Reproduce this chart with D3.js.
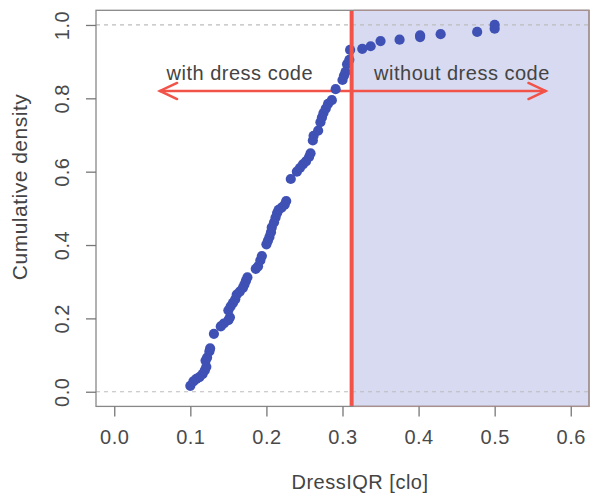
<!DOCTYPE html>
<html>
<head>
<meta charset="utf-8">
<script src="https://cdn.jsdelivr.net/npm/d3@7"></script>
<style>
  html, body { margin: 0; padding: 0; background: #fff; }
  svg { display: block; font-family: "Liberation Sans", Arial, Helvetica, sans-serif; }
</style>
</head>
<body>
<svg id="chart" width="591" height="493"></svg>
<script>
// ---- data ----
const xTicks = [0.0, 0.1, 0.2, 0.3, 0.4, 0.5, 0.6];
const yTicks = [0.0, 0.2, 0.4, 0.6, 0.8, 1.0];
const xTickLabels = ["0.0", "0.1", "0.2", "0.3", "0.4", "0.5", "0.6"];
const yTickLabels = ["0.0", "0.2", "0.4", "0.6", "0.8", "1.0"];

const dressIQR = [
  0.100, 0.104, 0.108, 0.112, 0.116, 0.119, 0.121, 0.120, 0.122, 0.125,
  0.126, 0.131, 0.140, 0.144, 0.150, 0.152, 0.150, 0.153, 0.156, 0.159,
  0.161, 0.165, 0.169, 0.171, 0.173, 0.175, 0.186, 0.189, 0.192, 0.194,
  0.200, 0.202, 0.204, 0.206, 0.207, 0.210, 0.212, 0.214, 0.216, 0.220,
  0.224, 0.226, 0.232, 0.240, 0.244, 0.248, 0.252, 0.256, 0.258, 0.261,
  0.262, 0.268, 0.271, 0.273, 0.275, 0.278, 0.281, 0.286, 0.291, 0.300,
  0.302, 0.304, 0.306, 0.309, 0.310, 0.326, 0.337, 0.350, 0.375, 0.402,
  0.402, 0.429, 0.477, 0.500, 0.500
];
const cumDensity = [
  0.016, 0.028, 0.035, 0.040, 0.048, 0.058, 0.068, 0.085, 0.093, 0.110,
  0.118, 0.158, 0.178, 0.186, 0.195, 0.203, 0.222, 0.233, 0.242, 0.252,
  0.265, 0.273, 0.283, 0.292, 0.302, 0.312, 0.335, 0.342, 0.358, 0.370,
  0.402, 0.412, 0.422, 0.435, 0.448, 0.462, 0.475, 0.487, 0.496, 0.502,
  0.510, 0.520, 0.580, 0.600, 0.610, 0.620, 0.628, 0.640, 0.650, 0.685,
  0.698, 0.712, 0.735, 0.748, 0.760, 0.772, 0.785, 0.795, 0.825, 0.850,
  0.862, 0.872, 0.893, 0.905, 0.932, 0.935, 0.942, 0.956, 0.960, 0.967,
  0.972, 0.975, 0.981, 0.990, 1.000
];

const threshold = 0.312;
const arrowLevel = 0.82;
const arrowLeftEnd = 0.06;
const arrowRightEnd = 0.567;
const leftLabel = "with dress code";
const rightLabel = "without dress code";
const leftLabelX = 0.165, rightLabelX = 0.457;
const xTitle = "DressIQR [clo]";
const yTitle = "Cumulative density";

// ---- drawing ----
const svg = d3.select("#chart");
const x = d3.scaleLinear().domain([-0.024, 0.624]).range([96, 589]);
const y = d3.scaleLinear().domain([-0.04, 1.04]).range([406.4, 10.3]);
const [x0, x1] = x.range();
const [yb, yt] = y.range();

const points = dressIQR.map((d, i) => ({x: d, y: cumDensity[i]}));

// shaded region (without dress code)
svg.append("rect")
  .attr("x", x(threshold)).attr("y", yt)
  .attr("width", x1 - x(threshold)).attr("height", yb - yt)
  .attr("fill", "#d7daf0");

// dashed reference lines at 0 and 1
svg.selectAll("line.ref").data([0, 1]).enter().append("line")
  .attr("class", "ref")
  .attr("x1", x0).attr("x2", x1)
  .attr("y1", d => y(d)).attr("y2", d => y(d))
  .attr("stroke", "#bdbdbd").attr("stroke-width", 1.2)
  .attr("stroke-dasharray", "4,4");

// arrows
const red = "#f25349";
function arrow(xFrom, xTo) {
  const g = svg.append("g").attr("stroke", red).attr("stroke-width", 2.5)
    .attr("fill", "none").attr("stroke-linecap", "round");
  const yy = y(arrowLevel);
  const xa = x(xFrom), xb = x(xTo);
  g.append("line").attr("x1", xa).attr("x2", xb).attr("y1", yy).attr("y2", yy);
  const dir = xb > xa ? -1 : 1;
  const len = 19, ang = 25 * Math.PI / 180;
  const dx = dir * len * Math.cos(ang), dy = len * Math.sin(ang);
  g.append("path")
    .attr("d", `M${xb + dx},${yy - dy} L${xb},${yy} L${xb + dx},${yy + dy}`)
    .attr("stroke-linejoin", "miter");
}
arrow(threshold, arrowLeftEnd);
arrow(threshold, arrowRightEnd);

// points
svg.append("g").selectAll("circle").data(points).enter().append("circle")
  .attr("cx", d => x(d.x)).attr("cy", d => y(d.y)).attr("r", 5.1)
  .attr("fill", "#3f51b5");

// threshold line
svg.append("line")
  .attr("x1", x(threshold)).attr("x2", x(threshold))
  .attr("y1", yt).attr("y2", yb)
  .attr("stroke", red).attr("stroke-width", 4);

// annotation labels
svg.append("text").attr("x", x(leftLabelX)).attr("y", 80)
  .attr("text-anchor", "middle").attr("font-size", 20).attr("letter-spacing", 0.5)
  .attr("fill", "#444").text(leftLabel);
svg.append("text").attr("x", x(rightLabelX)).attr("y", 80)
  .attr("text-anchor", "middle").attr("font-size", 20).attr("letter-spacing", 0.5)
  .attr("fill", "#444").text(rightLabel);

// box
svg.append("rect")
  .attr("x", x0).attr("y", yt).attr("width", x1 - x0).attr("height", yb - yt)
  .attr("fill", "none").attr("stroke", "#888").attr("stroke-width", 1.3);
svg.append("path")
  .attr("d", `M${x(threshold) + 2},${yt} H${x1} V${yb} H${x(threshold) + 2}`)
  .attr("fill", "none").attr("stroke", "#a8908f").attr("stroke-width", 1.3);

// x axis
const xAxis = d3.axisBottom(x).tickValues(xTicks)
  .tickFormat((d, i) => xTickLabels[i]).tickSize(10).tickPadding(13);
const gx = svg.append("g").attr("transform", `translate(0,${yb})`).call(xAxis);
gx.select(".domain").remove();
gx.selectAll(".tick line").attr("stroke", "#777").attr("stroke-width", 1.3);
gx.selectAll(".tick text").attr("font-size", 20).attr("letter-spacing", 0.5)
  .attr("fill", "#4a4a4a").attr("font-family", "Liberation Sans, Arial, sans-serif");

// y axis
const yAxis = d3.axisLeft(y).tickValues(yTicks)
  .tickFormat((d, i) => yTickLabels[i]).tickSize(10);
const gy = svg.append("g").attr("transform", `translate(${x0},0)`).call(yAxis);
gy.select(".domain").remove();
gy.selectAll(".tick line").attr("stroke", "#777").attr("stroke-width", 1.3);
gy.selectAll(".tick text")
  .attr("x", null).attr("dy", null)
  .attr("transform", "translate(-27,0) rotate(-90)")
  .attr("text-anchor", "middle")
  .attr("font-size", 20).attr("letter-spacing", 0.5)
  .attr("fill", "#4a4a4a").attr("font-family", "Liberation Sans, Arial, sans-serif");

// axis titles
svg.append("text").attr("x", 360).attr("y", 489)
  .attr("text-anchor", "middle").attr("font-size", 20).attr("letter-spacing", 0.5)
  .attr("fill", "#444").text(xTitle);
svg.append("text")
  .attr("transform", `translate(27,187) rotate(-90)`)
  .attr("text-anchor", "middle").attr("font-size", 21).attr("letter-spacing", 0.5)
  .attr("fill", "#444").text(yTitle);
</script>
</body>
</html>
